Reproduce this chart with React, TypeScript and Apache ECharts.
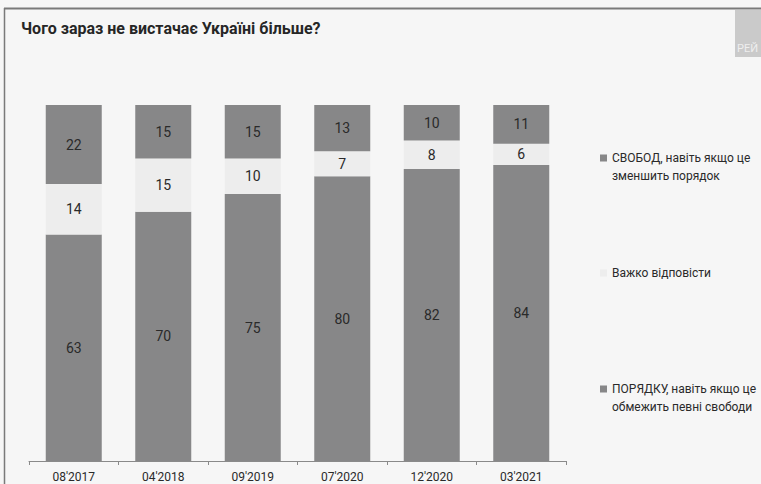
import React, { useEffect, useRef } from "react";
import * as echarts from "echarts";

const categories = ["08'2017", "04'2018", "09'2019", "07'2020", "12'2020", "03'2021"];
const poryadku = [63, 70, 75, 80, 82, 84];
const vazhko = [14, 15, 10, 7, 8, 6];
const svoboda = [22, 15, 15, 13, 10, 11];

const nameSvoboda = "СВОБОД, навіть якщо це зменшить порядок";
const nameVazhko = "Важко відповісти";
const namePoryadku = "ПОРЯДКУ, навіть якщо це обмежить певні свободи";

// leading blank line keeps the marker beside the first line of wrapped text
const legendText: Record<string, string> = {
  [nameSvoboda]: " \nСВОБОД, навіть якщо це\nзменшить порядок",
  [nameVazhko]: "Важко відповісти",
  [namePoryadku]: " \nПОРЯДКУ, навіть якщо це\nобмежить певні свободи",
};

const FONT = "Roboto, sans-serif";

export default function App() {
  const ref = useRef<HTMLDivElement>(null);
  useEffect(() => {
    if (!ref.current) return;
    const chart = echarts.init(ref.current, undefined, { renderer: "svg" });
    const totals = categories.map((_, i) => poryadku[i] + vazhko[i] + svoboda[i]);
    const norm = (arr: number[]) =>
      arr.map((v, i) => ({ value: (v / totals[i]) * 100, raw: v }));
    const label = {
      show: true,
      position: "inside" as const,
      fontFamily: FONT,
      fontSize: 14,
      color: "#2a2a2a",
      formatter: (p: any) => String(p.data.raw),
    };
    const dark = "#878788";
    const light = "#ededed";
    const legendTextStyle = { fontFamily: FONT, fontSize: 12, color: "#2a2a2a", lineHeight: 18 };
    const legendBase = {
      left: 600,
      padding: 0,
      icon: "rect",
      itemWidth: 7,
      itemHeight: 7,
      formatter: (n: string) => legendText[n],
      textStyle: legendTextStyle,
    };
    chart.setOption({
      animation: false,
      backgroundColor: "#f6f6f6",
      textStyle: { fontFamily: FONT },
      title: {
        text: "Чого зараз не вистачає Україні більше?",
        left: 16,
        top: 15,
        textStyle: { fontFamily: FONT, fontSize: 16, fontWeight: "bold", color: "#262626" },
      },
      grid: { left: 29, right: 195, top: 105, bottom: 23 },
      xAxis: {
        type: "category",
        data: categories,
        axisLine: { lineStyle: { color: "#8a8a8a", width: 1 } },
        axisTick: { show: true, length: 4, inside: false, lineStyle: { color: "#8a8a8a" } },
        axisLabel: { fontFamily: FONT, fontSize: 12, color: "#2a2a2a", margin: 10 },
      },
      yAxis: { type: "value", min: 0, max: 100, show: false, splitLine: { show: false } },
      legend: [
        { ...legendBase, data: [nameSvoboda], top: 131 },
        { ...legendBase, data: [nameVazhko], top: 264 },
        { ...legendBase, data: [namePoryadku], top: 362 },
      ],
      series: [
        {
          name: namePoryadku,
          type: "bar",
          stack: "a",
          barWidth: 56,
          data: norm(poryadku),
          itemStyle: { color: dark },
          label,
        },
        {
          name: nameVazhko,
          type: "bar",
          stack: "a",
          barWidth: 56,
          data: norm(vazhko),
          itemStyle: { color: light },
          label,
        },
        {
          name: nameSvoboda,
          type: "bar",
          stack: "a",
          barWidth: 56,
          data: norm(svoboda),
          itemStyle: { color: dark },
          label,
        },
      ],
      graphic: [
        { type: "line", shape: { x1: 4, y1: 8.5, x2: 761, y2: 8.5 }, style: { stroke: "#7a7a7a", lineWidth: 2 } },
        { type: "line", shape: { x1: 4.5, y1: 8, x2: 4.5, y2: 484 }, style: { stroke: "#7a7a7a", lineWidth: 1.5 } },
        { type: "rect", shape: { x: 735, y: 10, width: 26, height: 47 }, style: { fill: "#cacaca" } },
        {
          type: "text",
          x: 737,
          y: 43,
          style: { text: "РЕЙ", fill: "#eeeeee", fontSize: 11, fontFamily: FONT },
        },
      ],
    });
    return () => chart.dispose();
  }, []);
  return <div ref={ref} style={{ position: "fixed", left: 0, top: 0, width: 761, height: 484 }} />;
}
